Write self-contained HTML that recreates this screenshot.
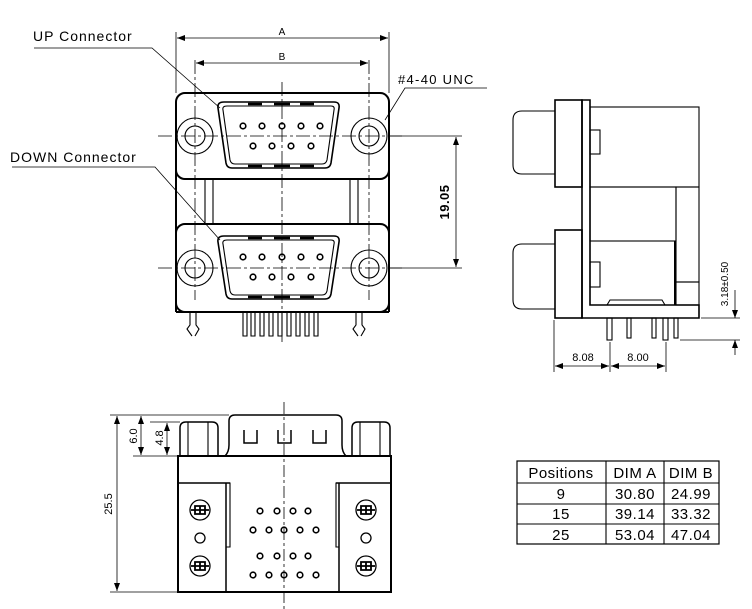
<!DOCTYPE html>
<html><head><meta charset="utf-8"><style>
html,body{margin:0;padding:0;background:#fff}
svg{display:block}
text{font-family:"Liberation Sans","DejaVu Sans",sans-serif;fill:#000}
</style></head><body>
<svg width="752" height="609" viewBox="0 0 752 609" xmlns="http://www.w3.org/2000/svg">
<defs>
<marker id="ar" markerWidth="8" markerHeight="6" refX="8" refY="3" orient="auto-start-reverse" markerUnits="userSpaceOnUse"><path d="M0,0 L8,3 L0,6 Z" fill="#000"/></marker>
</defs>
<g fill="none" stroke="#000" stroke-width="1.1">
<!-- ===== FRONT VIEW ===== -->
<rect x="176" y="93" width="213" height="86" rx="9" stroke-width="2"/>
<rect x="176" y="224" width="213" height="88" rx="9" stroke-width="2"/>
<line x1="176" y1="170" x2="176" y2="312" stroke-width="2"/>
<line x1="389" y1="170" x2="389" y2="312" stroke-width="2"/>
<line x1="176" y1="312" x2="389" y2="312" stroke-width="2"/>
<rect x="205" y="179" width="8" height="45"/>
<rect x="350" y="179" width="8" height="45"/>
<path d="M224,102 L334,102 Q340,102 339,108 L331,163 Q330,168 325,168 L232,168 Q227,168 226,163 L218,108 Q217,102 224,102 Z" stroke-width="1.6"/>
<path d="M227,106 L331,106 Q335,106 334,110 L327,160 Q326,164 322,164 L235,164 Q231,164 230,160 L223,110 Q222,106 227,106 Z"/>
<path d="M224,236 L334,236 Q340,236 339,242 L331,294 Q330,299 325,299 L232,299 Q227,299 226,294 L218,242 Q217,236 224,236 Z" stroke-width="1.6"/>
<path d="M227,240 L331,240 Q335,240 334,244 L327,291 Q326,295 322,295 L235,295 Q231,295 230,291 L223,244 Q222,240 227,240 Z"/>
<g stroke-width="2.5"><line x1="248" y1="104" x2="262" y2="104"/><line x1="274" y1="104" x2="290" y2="104"/><line x1="300" y1="104" x2="314" y2="104"/>
<line x1="248" y1="166" x2="262" y2="166"/><line x1="274" y1="166" x2="290" y2="166"/><line x1="300" y1="166" x2="314" y2="166"/>
<line x1="248" y1="238" x2="262" y2="238"/><line x1="274" y1="238" x2="290" y2="238"/><line x1="300" y1="238" x2="314" y2="238"/>
<line x1="248" y1="297" x2="262" y2="297"/><line x1="274" y1="297" x2="290" y2="297"/><line x1="300" y1="297" x2="314" y2="297"/></g>
<g stroke-width="1.6">
<circle cx="243" cy="126" r="2.8"/><circle cx="262" cy="126" r="2.8"/><circle cx="282" cy="126" r="2.8"/><circle cx="301" cy="126" r="2.8"/><circle cx="320" cy="126" r="2.8"/>
<circle cx="253" cy="146" r="2.8"/><circle cx="272" cy="146" r="2.8"/><circle cx="291" cy="146" r="2.8"/><circle cx="311" cy="146" r="2.8"/>
<circle cx="243" cy="257" r="2.8"/><circle cx="262" cy="257" r="2.8"/><circle cx="282" cy="257" r="2.8"/><circle cx="301" cy="257" r="2.8"/><circle cx="320" cy="257" r="2.8"/>
<circle cx="253" cy="277" r="2.8"/><circle cx="272" cy="277" r="2.8"/><circle cx="291" cy="277" r="2.8"/><circle cx="311" cy="277" r="2.8"/>
</g>
<circle cx="195" cy="136" r="18"/><circle cx="195" cy="136" r="10"/>
<circle cx="369" cy="136" r="18"/><circle cx="369" cy="136" r="10"/>
<circle cx="195" cy="268" r="18"/><circle cx="195" cy="268" r="10"/>
<circle cx="369" cy="268" r="18"/><circle cx="369" cy="268" r="10"/>
<g>
<path d="M190,312 L190,325 L187,329 L192,336 M196,312 L196,325 L199,329 L195,336"/>
<path d="M356,312 L356,325 L353,329 L358,336 M362,312 L362,325 L365,329 L361,336"/>
<path d="M243,312 v24 h4 v-24 M251,312 v24 h4 v-24 M260,312 v24 h4 v-24 M269,312 v24 h4 v-24 M278,312 v24 h4 v-24 M287,312 v24 h4 v-24 M296,312 v24 h4 v-24 M305,312 v24 h4 v-24 M314,312 v24 h4 v-24"/>
</g>
<g stroke-dasharray="14,3,3,3" stroke-width="0.8">
<line x1="282" y1="82" x2="282" y2="342"/>
<line x1="195" y1="60" x2="195" y2="300"/>
<line x1="369" y1="60" x2="369" y2="300"/>
<line x1="158" y1="136" x2="402" y2="136"/>
<line x1="158" y1="268" x2="402" y2="268"/>
</g>
<line x1="176" y1="32" x2="176" y2="93" stroke-width="0.8"/>
<line x1="389" y1="32" x2="389" y2="93" stroke-width="0.8"/>
<line x1="177" y1="38" x2="388" y2="38" marker-start="url(#ar)" marker-end="url(#ar)" stroke-width="0.8"/>
<line x1="196" y1="63" x2="368" y2="63" marker-start="url(#ar)" marker-end="url(#ar)" stroke-width="0.8"/>
<line x1="390" y1="136" x2="462" y2="136" stroke-width="0.8"/>
<line x1="390" y1="268" x2="462" y2="268" stroke-width="0.8"/>
<line x1="456" y1="137" x2="456" y2="267" marker-start="url(#ar)" marker-end="url(#ar)" stroke-width="0.8"/>
<polyline points="34,48 152,48 220,108" stroke-width="0.8"/>
<polyline points="12,167 155,167 220,240" stroke-width="0.8"/>
<polyline points="487,88 405,88 385,120" stroke-width="0.8"/>

<!-- ===== SIDE VIEW ===== -->
<path d="M582,100 L590,100 L590,305 L699,305 L699,318 L582,318 Z" stroke-width="1.6"/>
<rect x="555" y="100" width="27" height="87" stroke-width="1.6"/>
<rect x="555" y="230" width="27" height="88" stroke-width="1.6"/>
<path d="M555,111 L522,111 Q513,111 513,120 L513,165 Q513,174 522,174 L555,174"/>
<path d="M555,244 L522,244 Q513,244 513,253 L513,300 Q513,309 522,309 L555,309"/>
<rect x="590" y="107" width="109" height="80"/>
<rect x="590" y="187" width="86" height="54"/>
<rect x="676" y="187" width="23" height="95"/>
<rect x="676" y="282" width="23" height="23"/>
<line x1="675" y1="241" x2="675" y2="305" stroke-width="2"/>
<rect x="590" y="130" width="10" height="24"/>
<rect x="590" y="262" width="10" height="25"/>
<path d="M607,305 L610,300 L662,300 L665,305"/>
<g>
<rect x="607" y="318" width="5" height="22"/><rect x="627" y="318" width="4" height="20"/><rect x="652" y="318" width="4" height="20"/><rect x="663" y="318" width="5" height="22"/><rect x="674" y="318" width="4" height="20"/>
</g>
<line x1="554" y1="320" x2="554" y2="372" stroke-width="0.8"/>
<line x1="610" y1="342" x2="610" y2="372" stroke-width="0.8"/>
<line x1="666" y1="342" x2="666" y2="372" stroke-width="0.8"/>
<line x1="555" y1="366" x2="609" y2="366" marker-start="url(#ar)" marker-end="url(#ar)" stroke-width="0.8"/>
<line x1="611" y1="366" x2="665" y2="366" marker-start="url(#ar)" marker-end="url(#ar)" stroke-width="0.8"/>
<line x1="701" y1="318" x2="740" y2="318" stroke-width="0.8"/>
<line x1="680" y1="340" x2="740" y2="340" stroke-width="0.8"/>
<line x1="735" y1="290" x2="735" y2="318" marker-end="url(#ar)" stroke-width="0.8"/>
<line x1="735" y1="355" x2="735" y2="340" marker-end="url(#ar)" stroke-width="0.8"/>

<!-- ===== BOTTOM VIEW ===== -->
<rect x="178" y="456" width="213" height="136" stroke-width="2"/>
<line x1="178" y1="483" x2="230" y2="483" stroke-width="1.5"/>
<line x1="336" y1="483" x2="391" y2="483" stroke-width="1.5"/>
<line x1="226" y1="483" x2="226" y2="592" stroke-width="1.5"/>
<line x1="339" y1="483" x2="339" y2="592" stroke-width="1.5"/>
<polyline points="226,483 230,483 230,547 226,547"/>
<polyline points="339,483 336,483 336,547 339,547"/>
<path d="M180,456 L180,428 Q180,422 186,422 L212,422 Q218,422 218,428 L218,456" stroke-width="1.5"/>
<line x1="188" y1="422" x2="188" y2="456"/><line x1="208" y1="422" x2="208" y2="456"/>
<path d="M352,456 L352,428 Q352,422 358,422 L384,422 Q390,422 390,428 L390,456" stroke-width="1.5"/>
<line x1="360" y1="422" x2="360" y2="456"/><line x1="380" y1="422" x2="380" y2="456"/>
<path d="M225,456 Q229,452 229,445 L229,421 Q229,415 235,415 L336,415 Q342,415 342,421 L342,445 Q342,452 346,456" stroke-width="1.5"/>
<path d="M244,430 v13 h13 v-13 M278,430 v13 h13 v-13 M313,430 v13 h13 v-13" stroke-width="1.5"/>
<g stroke-width="1.3">
<circle cx="200" cy="510" r="10"/><circle cx="200" cy="566" r="10"/><circle cx="200" cy="538" r="5"/>
<circle cx="366" cy="510" r="10"/><circle cx="366" cy="566" r="10"/><circle cx="366" cy="538" r="5"/>
<path d="M191,510 h18 M195,506 h10 v8 h-10 z M200,506 v8 M191,566 h18 M195,562 h10 v8 h-10 z M200,562 v8" stroke-width="1.8"/>
<path d="M357,510 h18 M361,506 h10 v8 h-10 z M366,506 v8 M357,566 h18 M361,562 h10 v8 h-10 z M366,562 v8" stroke-width="1.8"/>
</g>
<g stroke-width="1.6">
<circle cx="260" cy="511" r="2.8"/><circle cx="277" cy="511" r="2.8"/><circle cx="293" cy="511" r="2.8"/><circle cx="308" cy="511" r="2.8"/>
<circle cx="253" cy="530" r="2.8"/><circle cx="269" cy="530" r="2.8"/><circle cx="284" cy="530" r="2.8"/><circle cx="300" cy="530" r="2.8"/><circle cx="316" cy="530" r="2.8"/>
<circle cx="260" cy="556" r="2.8"/><circle cx="277" cy="556" r="2.8"/><circle cx="293" cy="556" r="2.8"/><circle cx="308" cy="556" r="2.8"/>
<circle cx="253" cy="575" r="2.8"/><circle cx="269" cy="575" r="2.8"/><circle cx="284" cy="575" r="2.8"/><circle cx="300" cy="575" r="2.8"/><circle cx="316" cy="575" r="2.8"/>
</g>
<line x1="284" y1="402" x2="284" y2="609" stroke-dasharray="12,3,3,3" stroke-width="0.8"/>
<line x1="110" y1="415" x2="229" y2="415" stroke-width="0.8"/>
<line x1="150" y1="422" x2="180" y2="422" stroke-width="0.8"/>
<line x1="133" y1="456" x2="178" y2="456" stroke-width="0.8"/>
<line x1="110" y1="592" x2="178" y2="592" stroke-width="0.8"/>
<line x1="117" y1="416" x2="117" y2="591" marker-start="url(#ar)" marker-end="url(#ar)" stroke-width="0.8"/>
<line x1="141" y1="416" x2="141" y2="455" marker-start="url(#ar)" marker-end="url(#ar)" stroke-width="0.8"/>
<line x1="167" y1="423" x2="167" y2="455" marker-start="url(#ar)" marker-end="url(#ar)" stroke-width="0.8"/>

<rect x="517" y="461" width="202" height="83" stroke-width="1.2"/>
<line x1="517" y1="483" x2="719" y2="483"/><line x1="517" y1="504" x2="719" y2="504"/><line x1="517" y1="524" x2="719" y2="524"/>
<line x1="606" y1="461" x2="606" y2="544"/><line x1="664" y1="461" x2="664" y2="544"/>
</g>

<g font-size="14" letter-spacing="1">
<text x="33" y="41">UP  Connector</text>
<text x="10" y="162">DOWN  Connector</text>
</g>
<text x="398" y="84" font-size="13" letter-spacing="1.3">#4-40  UNC</text>
<text x="282" y="35" font-size="10" text-anchor="middle">A</text>
<text x="282" y="60" font-size="10" text-anchor="middle">B</text>
<text transform="translate(449,202) rotate(-90)" font-size="13" text-anchor="middle" font-weight="bold" letter-spacing="0.5">19.05</text>
<text x="583" y="361" font-size="11" text-anchor="middle">8.08</text>
<text x="638" y="361" font-size="11" text-anchor="middle">8.00</text>
<text transform="translate(728,284) rotate(-90)" font-size="10" text-anchor="middle">3.18±0.50</text>
<text transform="translate(112,504) rotate(-90)" font-size="11" text-anchor="middle">25.5</text>
<text transform="translate(137,436) rotate(-90)" font-size="11" text-anchor="middle">6.0</text>
<text transform="translate(163,438) rotate(-90)" font-size="11" text-anchor="middle">4.8</text>
<g font-size="15" text-anchor="middle" letter-spacing="0.5">
<text x="561" y="478">Positions</text><text x="635" y="478">DIM  A</text><text x="691" y="478">DIM  B</text>
<text x="561" y="499">9</text><text x="635" y="499">30.80</text><text x="691" y="499">24.99</text>
<text x="561" y="519">15</text><text x="635" y="519">39.14</text><text x="691" y="519">33.32</text>
<text x="561" y="540">25</text><text x="635" y="540">53.04</text><text x="691" y="540">47.04</text>
</g>
</svg>
</body></html>
